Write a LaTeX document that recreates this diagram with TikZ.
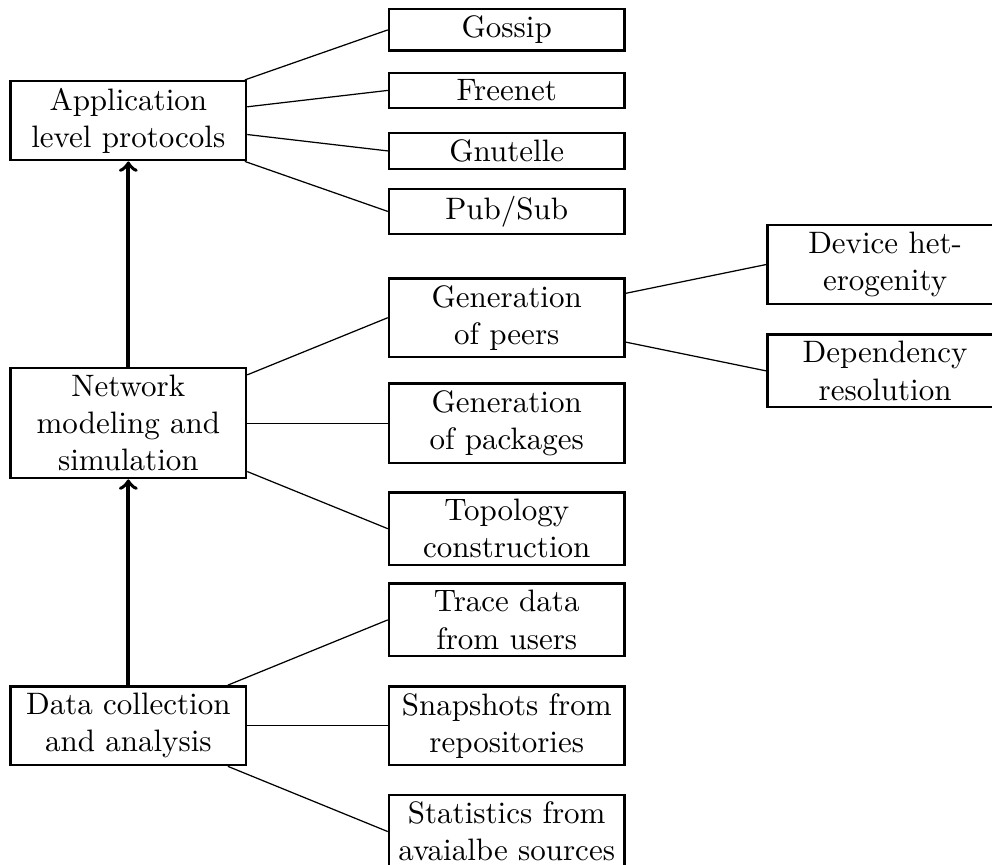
\documentclass[tikz,border=0pt]{standalone}
\usetikzlibrary{calc}

\begin{document}
\begin{tikzpicture}[
  box/.style={
    rectangle, draw=black, thick,
    text width=2.5cm, align=center,
    inner xsep=2.4pt, inner ysep=2.2pt
  },
  link/.style={thin},
  flow/.style={->, very thick}
]

% ---------- Geometry ----------
\def\colsep{4.29}
\def\rowsep{3.43}
\coordinate (R1) at (0,0);
\coordinate (R2) at (0,\rowsep);
\coordinate (R3) at (0,2*\rowsep);

% ---------- Frame ----------
\useasboundingbox (-1.455,-1.578) rectangle (9.792,8.228);

% ---------- Main stages ----------
\node[box] (Data) at (R1) {Data collection\\and analysis};
\node[box] (Net)  at (R2) {Network\\modeling and\\simulation};
\node[box] (App)  at (R3) {Application\\level protocols};

% ---------- Protocols ----------
\node[box] (Gossip)   at ($(R3)+(\colsep, 1.029)$) {Gossip};
\node[box] (Freenet)  at ($(R3)+(\colsep, 0.343)$) {Freenet};
\node[box] (Gnutelle) at ($(R3)+(\colsep,-0.343)$) {Gnutelle};
\node[box] (PubSub)   at ($(R3)+(\colsep,-1.029)$) {Pub/Sub};

% ---------- Modeling ----------
\node[box] (GenPeers) at ($(R2)+(\colsep, 1.196)$) {Generation\\of peers};
\node[box] (GenPkgs)  at ($(R2)+(\colsep, 0)$)     {Generation\\of packages};
\node[box] (Topo)     at ($(R2)+(\colsep,-1.196)$) {Topology\\construction};

\node[box] (Device) at ($(GenPeers)+(\colsep, 0.603)$) {Device het-\\erogenity};
\node[box] (Depend) at ($(GenPeers)+(\colsep,-0.603)$) {Dependency\\resolution};

% ---------- Data sources ----------
\node[box] (Trace) at ($(R1)+(\colsep, 1.2)$) {Trace data\\from users};
\node[box] (Snap)  at ($(R1)+(\colsep, 0)$)   {Snapshots from\\repositories};
\node[box] (Stats) at ($(R1)+(\colsep,-1.2)$) {Statistics from\\avaialbe sources};

% ---------- Links ----------
\foreach \kid in {Gossip,Freenet,Gnutelle,PubSub}
  \draw[link] (App) -- (\kid.west);
\foreach \kid in {GenPeers,GenPkgs,Topo}
  \draw[link] (Net) -- (\kid.west);
\foreach \kid in {Trace,Snap,Stats}
  \draw[link] (Data) -- (\kid.west);
\foreach \kid in {Device,Depend}
  \draw[link] (GenPeers) -- (\kid.west);

% ---------- Flow ----------
\draw[flow] (Data) -- (Net);
\draw[flow] (Net) -- (App);

\end{tikzpicture}
\end{document}
